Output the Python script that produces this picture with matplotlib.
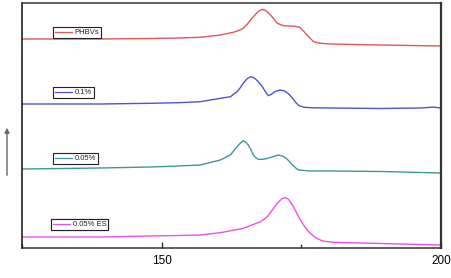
import matplotlib
matplotlib.use("Agg")
import matplotlib.pyplot as plt
from matplotlib.lines import Line2D

plt.rcParams['font.family'] = ['Liberation Sans', 'DejaVu Sans']

# Temperature (°C) and signal (a.u., vertically offset curves)
t_phbv = [125.0, 139.0, 147.9, 153.0, 156.9, 160.5, 162.8, 163.8, 164.6, 165.5, 166.4, 167.3,
          168.0, 168.6, 169.3, 170.0, 170.7, 171.8, 173.0, 173.9, 174.7, 175.5, 176.4,
          177.2, 178.4, 180.2, 189.2, 200.0]
y_phbv = [209, 209, 209.5, 210, 210.7, 213, 215.7, 217.5, 219.7, 225, 231.3, 236.5,
          238.7, 237.5, 234, 229.7, 224.7, 222.3, 222, 221.8, 220.7, 216.3, 210.7,
          206.3, 204.7, 204, 203, 202]

t_01 = [125.0, 139.0, 147.9, 153.0, 156.9, 160.5, 162.3, 163.5, 164.1, 164.6, 165.3, 165.9,
        166.5, 167.2, 168.0, 168.6, 169.1, 169.6, 170.3, 171.2, 172.0, 172.7, 173.4,
        174.0, 174.6, 175.5, 177.0, 180.2, 189.2, 196.3, 197.8, 198.5, 199.2, 200.0]
y_01 = [144, 144, 144.7, 145.3, 146.3, 149.7, 151.3, 156.3, 160.5, 164.7, 169.3, 171.3,
        170.3, 167, 161.5, 156, 152.3, 153.5, 156.5, 158, 157, 154.3, 150,
        145.5, 142.3, 140.7, 140.2, 140, 139.5, 140, 140.5, 141, 140.5, 140]

t_005 = [125.0, 139.0, 147.9, 153.0, 156.9, 160.5, 162.3, 163.5, 164.1, 164.6, 165.0, 165.5,
         166.0, 166.4, 166.9, 167.3, 168.0, 168.9, 170.0, 170.9, 171.6, 172.3, 172.9,
         173.4, 174.0, 174.5, 176.6, 180.2, 189.2, 200.0]
y_005 = [79, 80, 81, 82, 83, 88, 93, 101.3, 105, 107.3, 106, 103,
         98, 93, 90.2, 88.7, 88.6, 89.5, 91.5, 93, 92, 89.7, 86.3,
         83, 80, 78, 77, 77, 76.5, 75]

t_005es = [125.0, 139.0, 147.9, 153.0, 156.9, 160.5, 164.6, 167.7, 168.9, 169.8, 170.7, 171.6,
           172.1, 172.7, 173.6, 174.5, 175.4, 176.3, 177.5, 178.8, 180.7, 189.2, 200.0]
y_005es = [11, 11, 12, 12.5, 13, 15.3, 19.7, 26.3, 31.3, 38, 44.7, 49.7,
           50.3, 48.7, 41.3, 31.3, 23, 16.3, 10.3, 7, 5.7, 4.5, 3]

labels = ["PHBVs", "0.1%", "0.05%", "0.05% ES"]
colors = ["#e65454", "#5050dc", "#3c9898", "#ec50ec"]
xticks_major = [150, 200]
xticks_minor = [125, 175]

W, H = 452, 278
fig = plt.figure(figsize=(W / 100, H / 100), dpi=100)
ax = fig.add_axes([22 / W, 1 - 248 / H, (441 - 22) / W, (248 - 3) / H])

series = [(t_phbv, y_phbv), (t_01, y_01), (t_005, y_005), (t_005es, y_005es)]
lines = []
for (t, y), c, lab in zip(series, colors, labels):
    ln, = ax.plot(t, y, color=c, lw=1.0, label=lab, solid_joinstyle='round')
    lines.append(ln)

ax.set_xlim(125, 200)
ax.set_ylim(0, 245)
ax.set_yticks([])
ax.set_xticks(xticks_major)
ax.set_xticks(xticks_minor, minor=True)
ax.tick_params(axis='x', which='major', direction='in', length=4, width=1, labelsize=8.5,
               colors='#333333', labelcolor='black', pad=5)
ax.tick_params(axis='x', which='minor', direction='in', length=3, width=1, colors='#333333')
for s in ax.spines.values():
    s.set_color('#333333')
    s.set_linewidth(1.1)
ax.spines['right'].set_linewidth(1.6)
ax.spines['left'].set_color('#111111')

# legends (one per curve)
leg_pos = [(53, 27), (53, 87), (53, 153), (51, 219)]
for ln, (px, py) in zip(lines, leg_pos):
    leg = ax.legend(handles=[Line2D([], [], color=ln.get_color(), lw=0.9)], labels=[ln.get_label()],
                    loc='upper left', bbox_to_anchor=((px - 22) / 419, (248 - py) / 245),
                    fontsize=5.5, frameon=True, fancybox=False, edgecolor='#222222',
                    framealpha=1, borderpad=0.25, borderaxespad=0, handlelength=2.3,
                    handletextpad=0.3, labelcolor='#222222')
    leg.get_frame().set_linewidth(0.8)
    ax.add_artist(leg)

# arrow on the left
ax.annotate('', xy=(7, H - 125), xytext=(7, H - 178), xycoords='figure pixels',
            textcoords='figure pixels',
            arrowprops=dict(arrowstyle='-|>', color='#666666', lw=1.0, mutation_scale=7),
            annotation_clip=False)

fig.savefig("out.png", dpi=100)
